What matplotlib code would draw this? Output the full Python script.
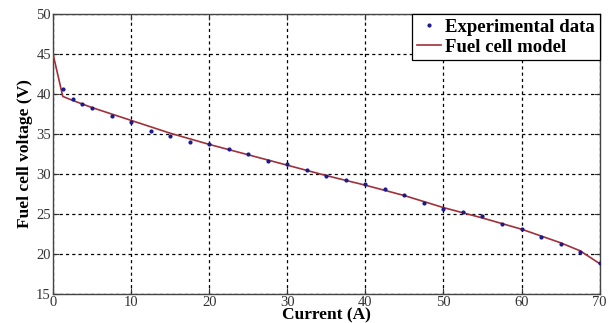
import matplotlib
matplotlib.use("Agg")
import matplotlib.pyplot as plt

# Experimental data
exp_current = [1.25, 2.5, 3.75, 5, 7.5, 10, 12.5, 15, 17.5, 20, 22.5, 25, 27.5, 30,
               32.5, 35, 37.5, 40, 42.5, 45, 47.5, 50, 52.5, 55, 57.5, 60, 62.5, 65, 67.5, 70]
exp_voltage = [40.58, 39.42, 38.75, 38.2, 37.2, 36.55, 35.4, 34.75, 34.04, 33.7, 33.1, 32.45, 31.6, 31.2,
               30.5, 29.8, 29.25, 28.75, 28.1, 27.4, 26.4, 25.67, 25.2, 24.75, 23.8, 23.1, 22.1, 21.2, 20.25, 18.9]

# Model curve
model_current = [0, 1.25, 2.5, 5, 10, 15, 20, 25, 30, 35, 40, 45, 50, 55, 60, 65, 67.5, 70]
model_voltage = [45.0, 39.7, 39.2, 38.3, 36.7, 35.1, 33.7, 32.4, 31.1, 29.8, 28.6, 27.3, 25.8, 24.5, 23.1, 21.4, 20.4, 18.8]

x_ticks = [0, 10, 20, 30, 40, 50, 60, 70]
y_ticks = [15, 20, 25, 30, 35, 40, 45, 50]

plt.rcParams['font.family'] = ['Liberation Serif', 'DejaVu Serif']

fig = plt.figure(figsize=(6.15, 3.23), dpi=100)
ax = fig.add_axes([0.0862, 0.0898, 0.8888, 0.8669])

ax.plot(model_current, model_voltage, color='#a0303a', lw=1.2, label='Fuel cell model', zorder=3)
ax.plot(exp_current, exp_voltage, linestyle='none', marker='.', markersize=4,
        color='#1a1a8c', label='Experimental data', zorder=4)

ax.set_xlim(0, 70)
ax.set_ylim(15, 50)
ax.set_xticks(x_ticks)
ax.set_yticks(y_ticks)
ax.grid(True, color='black', linestyle=(0, (2.5, 2.5)), lw=0.9)
ax.tick_params(direction='in', top=True, right=True, labelsize=10.5, colors='#333333',
               length=4, pad=1.5)
for s in ax.spines.values():
    s.set_color('#444444')
    s.set_linewidth(1.0)

ax.set_xlabel('Current (A)', fontsize=12.5, fontweight='bold', labelpad=-1)
ax.set_ylabel('Fuel cell voltage (V)', fontsize=12.5, fontweight='bold', labelpad=2)

handles, labels = ax.get_legend_handles_labels()
leg = ax.legend(handles[::-1], labels[::-1], loc='upper right', borderaxespad=0,
                prop={'weight': 'bold', 'size': 13.5}, frameon=True, fancybox=False,
                handlelength=1.3, handletextpad=0.2, borderpad=0.25, labelspacing=0.15)
leg.get_frame().set_edgecolor('black')
leg.get_frame().set_linewidth(0.9)
leg.get_frame().set_alpha(1)

fig.savefig('out.png', dpi=100)
